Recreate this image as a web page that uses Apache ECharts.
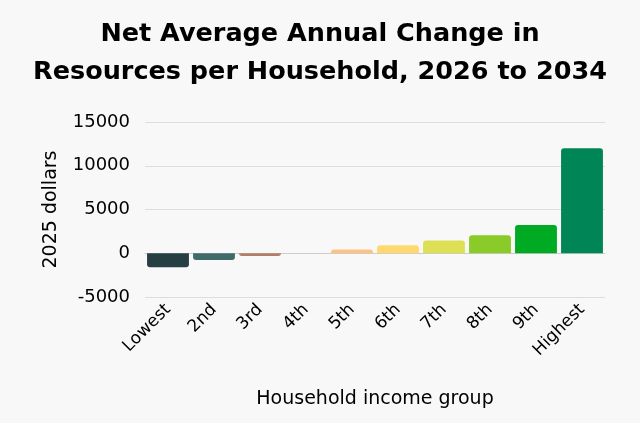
<!DOCTYPE html>
<html><head><meta charset="utf-8">
<script src="https://cdn.jsdelivr.net/npm/echarts@6/dist/echarts.min.js"></script>
<style>html,body{margin:0;padding:0;background:#f8f8f8}#c{width:640px;height:423px}</style>
</head><body><div id="c"></div>
<script>
const categories = ['Lowest','2nd','3rd','4th','5th','6th','7th','8th','9th','Highest'];
const values = [-1600, -760, -300, -40, 420, 920, 1450, 2060, 3220, 12000];
const colors = ['#263f42','#3f6b69','#b07e6a','#efcbbd','#ffc285','#ffd970','#dde055','#8acb2a','#00aa22','#008556'];
const yTicks = {min:-5000, max:15000, interval:5000};
const FONT = 'DejaVu Sans';
const chart = echarts.init(document.getElementById('c'));
chart.setOption({
  backgroundColor:'#f8f8f8',
  animation:false,
  title:{
    text:'Net Average Annual Change in\nResources per Household, 2026 to 2034',
    left:'center', top:10,
    textStyle:{fontFamily:FONT, fontWeight:'bold', fontSize:25.5, lineHeight:38, color:'#000'}
  },
  grid:{left:145, right:35, top:122, bottom:126, containLabel:false},
  xAxis:{
    type:'category', data:categories,
    name:'Household income group', nameLocation:'middle', nameGap:93,
    nameTextStyle:{fontFamily:FONT, fontSize:19, color:'#000'},
    axisLine:{show:true, lineStyle:{color:'#cccccc'}},
    axisTick:{show:false},
    axisLabel:{rotate:45, fontFamily:FONT, fontSize:17, color:'#000', margin:10, interval:0}
  },
  yAxis:{
    type:'value', min:yTicks.min, max:yTicks.max, interval:yTicks.interval,
    name:'2025 dollars', nameLocation:'middle', nameGap:84,
    nameTextStyle:{fontFamily:FONT, fontSize:19, color:'#000'},
    axisLine:{show:false}, axisTick:{show:false},
    splitLine:{lineStyle:{color:'#dddddd'}},
    axisLabel:{fontFamily:FONT, fontSize:18, color:'#000', margin:15, formatter:v=>String(v)}
  },
  series:[{
    type:'bar', barCategoryGap:'9%',
    data: values.map((v,i)=>({value:v, itemStyle:{color:colors[i], borderRadius: v>=0?[3,3,0,0]:[0,0,3,3]}}))
  }]
});
</script></body></html>
